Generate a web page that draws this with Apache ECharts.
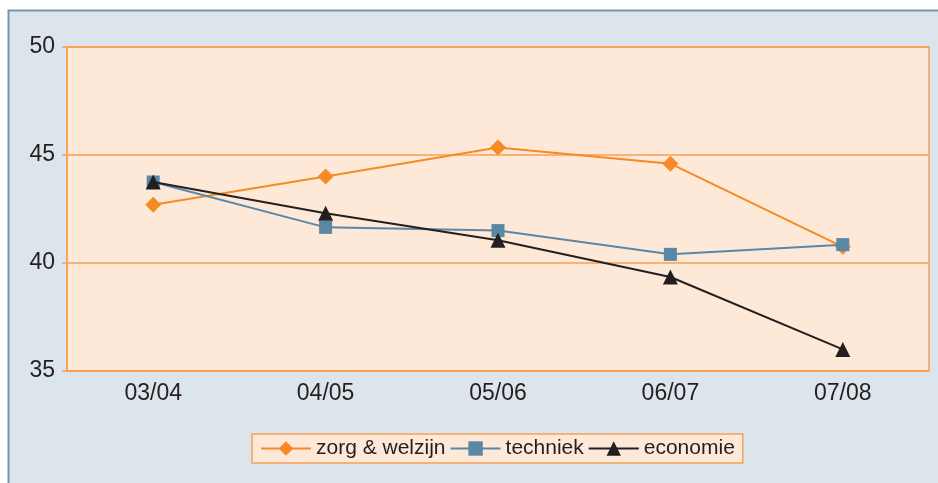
<!DOCTYPE html>
<html>
<head>
  <meta charset="utf-8" />
  <script src="https://cdn.jsdelivr.net/npm/echarts@6/dist/echarts.min.js"></script>
  <style>
    html, body { margin: 0; padding: 0; background: #fff; }
    #main { width: 938px; height: 483px; }
  </style>
  <title>zorg, techniek, economie</title>
</head>
<body>
  <div id="main"></div>
  <script>
    // categorieen (schooljaren)
    var years = ['03/04', '04/05', '05/06', '06/07', '07/08'];
    // y-as
    var yTicks = [35, 40, 45, 50];
    // reeksen
    var zorg = [42.7, 44.0, 45.35, 44.6, 40.75];
    var techniek = [43.75, 41.65, 41.5, 40.4, 40.85];
    var economie = [43.75, 42.3, 41.05, 39.35, 36.0];

    var orange = '#f7a055';
    var font = 'Liberation Sans, Arial, sans-serif';

    var myChart = echarts.init(document.getElementById('main'));

    var option = {
      backgroundColor: 'transparent',
      animation: false,
      graphic: [{
        type: 'rect',
        z: -10,
        shape: { x: 8.5, y: 10.5, width: 940, height: 480 },
        style: { fill: '#dce4ec', stroke: '#7697b3', lineWidth: 2 }
      }],
      grid: {
        left: 67, top: 47, right: 9, bottom: 112,
        show: true,
        backgroundColor: '#fee8d8',
        borderColor: orange,
        borderWidth: 1.5
      },
      legend: {
        bottom: 20,
        left: 252,
        padding: [4, 8, 4, 8],
        itemGap: 4,
        itemWidth: 50,
        itemHeight: 18,
        backgroundColor: '#fee8d8',
        borderColor: orange,
        borderWidth: 1.5,
        borderRadius: 0,
        textStyle: { fontFamily: font, fontSize: 21, color: '#231f20' },
        data: ['zorg & welzijn', 'techniek', 'economie']
      },
      xAxis: {
        type: 'category',
        data: years,
        boundaryGap: true,
        axisLine: { lineStyle: { color: orange, width: 1.5 } },
        axisTick: { show: false },
        axisLabel: { fontFamily: font, fontSize: 23, color: '#231f20', margin: 11 }
      },
      yAxis: {
        type: 'value',
        min: yTicks[0],
        max: yTicks[yTicks.length - 1],
        interval: 5,
        axisLine: { show: true, lineStyle: { color: orange, width: 1.5 } },
        axisTick: { show: true, length: 5, lineStyle: { color: orange, width: 1.5 } },
        splitLine: { lineStyle: { color: orange, width: 1.5 } },
        axisLabel: { fontFamily: font, fontSize: 23, color: '#231f20', margin: 12 }
      },
      series: [{
          name: 'zorg & welzijn',
          type: 'line',
          data: zorg,
          symbol: 'diamond',
          symbolSize: 16,
          color: '#f68a24',
          lineStyle: { width: 2 },
          z: 2
        },
        {
          name: 'techniek',
          type: 'line',
          data: techniek,
          symbol: 'rect',
          symbolSize: 13,
          color: '#5b87a6',
          lineStyle: { width: 2 },
          z: 3
        },
        {
          name: 'economie',
          type: 'line',
          data: economie,
          symbol: 'triangle',
          symbolSize: 15,
          color: '#231f20',
          lineStyle: { width: 2 },
          z: 4
        }
      ]
    };
    myChart.setOption(option);
  </script>
</body>
</html>
